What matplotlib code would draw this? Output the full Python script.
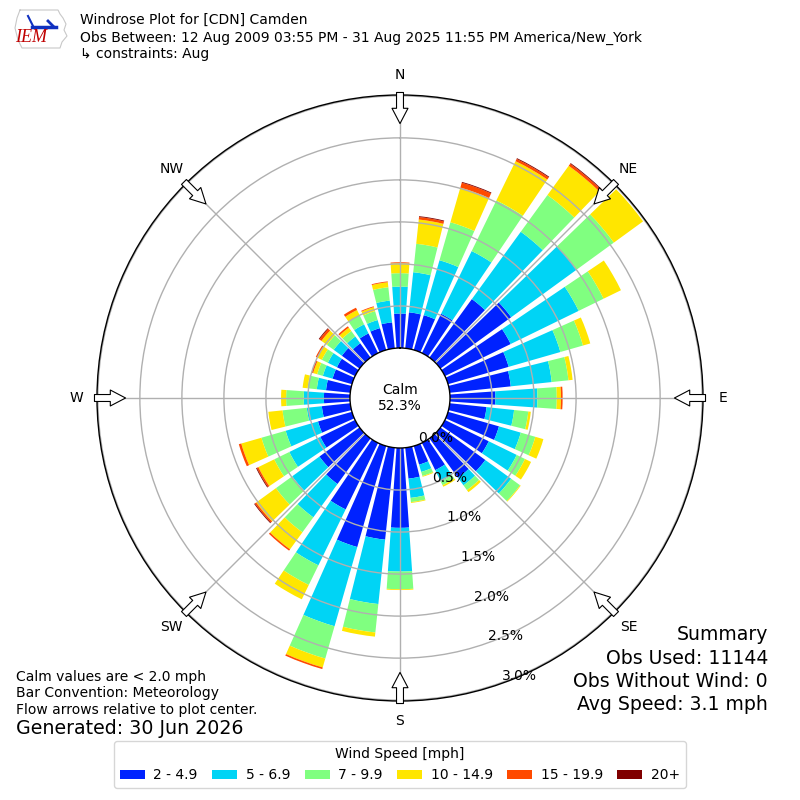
import matplotlib
matplotlib.use("Agg")
import matplotlib.pyplot as plt
from matplotlib.patches import Patch
from matplotlib.transforms import offset_copy
import numpy as np

# direction bins (deg, meteorological) and frequency [%] per speed class
directions = np.arange(0, 360, 10)
spd_2_5 = [0.41, 0.43, 0.43, 0.52, 0.86, 1.04, 0.87, 0.75, 0.73, 0.54, 0.44, 0.63,
           0.58, 0.66, 0.58, 0.36, 0.23, 0.37, 0.95, 1.10, 1.25, 0.88, 0.67, 0.59,
           0.46, 0.42, 0.34, 0.31, 0.29, 0.24, 0.24, 0.26, 0.21, 0.26, 0.27, 0.31]
spd_5_7 = [0.32, 0.48, 0.68, 0.83, 0.99, 0.96, 0.90, 0.64, 0.49, 0.50, 0.33, 0.27,
           0.37, 0.38, 0.11, 0.15, 0.09, 0.23, 0.52, 0.77, 0.98, 0.74, 0.49, 0.40,
           0.41, 0.40, 0.18, 0.24, 0.11, 0.12, 0.12, 0.12, 0.10, 0.12, 0.10, 0.26]
spd_7_10 = [0.16, 0.34, 0.47, 0.67, 0.54, 0.55, 0.33, 0.28, 0.20, 0.23, 0.17, 0.18,
            0.11, 0.13, 0.07, 0.05, 0.05, 0.05, 0.21, 0.34, 0.40, 0.26, 0.22, 0.24,
            0.20, 0.30, 0.29, 0.21, 0.11, 0.07, 0.08, 0.10, 0.08, 0.12, 0.11, 0.16]
spd_10_15 = [0.12, 0.29, 0.43, 0.52, 0.43, 0.43, 0.23, 0.09, 0.05, 0.05, 0.03, 0.10,
             0.08, 0.01, 0.03, 0.02, 0.01, 0.01, 0.01, 0.05, 0.11, 0.19, 0.25, 0.29,
             0.21, 0.25, 0.17, 0.06, 0.06, 0.05, 0.06, 0.08, 0.05, 0.07, 0.05, 0.06]
spd_15_20 = [0.01, 0.03, 0.06, 0.03, 0.03, 0.00, 0.00, 0.00, 0.00, 0.02, 0.00, 0.00,
             0.00, 0.00, 0.00, 0.00, 0.00, 0.00, 0.00, 0.00, 0.02, 0.00, 0.02, 0.02,
             0.02, 0.03, 0.00, 0.00, 0.00, 0.02, 0.02, 0.03, 0.02, 0.03, 0.01, 0.01]
spd_20p = [0.00, 0.01, 0.01, 0.01, 0.01, 0.00, 0.00, 0.00, 0.00, 0.00, 0.00, 0.00,
           0.00, 0.00, 0.00, 0.00, 0.00, 0.00, 0.00, 0.00, 0.00, 0.00, 0.00, 0.01,
           0.01, 0.00, 0.00, 0.00, 0.00, 0.00, 0.00, 0.01, 0.00, 0.00, 0.00, 0.00]

speed_labels = ["2 - 4.9", "5 - 6.9", "7 - 9.9", "10 - 14.9", "15 - 19.9", "20+"]
colors = ["#0022ff", "#00d4f5", "#80ff80", "#ffe600", "#ff4a00", "#800000"]

calm_pct = 52.3
ring_vals = [0.5, 1.0, 1.5, 2.0, 2.5, 3.0]
compass = ["N", "NE", "E", "SE", "S", "SW", "W", "NW"]

fig = plt.figure(figsize=(8, 8), dpi=100)
ax = fig.add_axes([0.12125, 0.12375, 0.7575, 0.7575], projection="polar")
ax.set_theta_zero_location("N")
ax.set_theta_direction(-1)
ax.set_rorigin(-0.595)
ax.set_ylim(0, 3.01)

theta = np.deg2rad(directions)
width = np.deg2rad(8)
bottom = np.zeros(len(directions))
for vals, c in zip([spd_2_5, spd_5_7, spd_7_10, spd_10_15, spd_15_20, spd_20p], colors):
    vals = np.array(vals)
    ax.bar(theta, vals, width=width, bottom=bottom, color=c, edgecolor="none", zorder=1)
    bottom = bottom + vals

ax.set_yticks(ring_vals)
ax.set_yticklabels([])
ax.set_thetagrids(range(0, 360, 45), labels=[""] * 8)
ax.grid(True, color="#b0b0b0", lw=1)
for sp in ax.spines.values():
    sp.set_color("black")
    sp.set_linewidth(1)

# radial labels
tr = offset_copy(ax.transData, fig=fig, x=19, y=7, units="dots")
for r in [0.0] + ring_vals:
    ax.text(np.deg2rad(160.5), r, "%.1f%%" % r, transform=tr, ha="center",
            va="center", fontsize=10)

# compass labels and flow arrows
for i, lab in enumerate(compass):
    t = np.deg2rad(i * 45)
    ax.text(t, 3.25, lab, ha="center", va="center", fontsize=10)
    ax.annotate("", xy=(t, 2.67), xytext=(t, 3.04), annotation_clip=False,
                arrowprops=dict(arrowstyle="simple,head_length=1.1,head_width=1.15,tail_width=0.5",
                                fc="white", ec="black", lw=0.8, shrinkA=0, shrinkB=0,
                                mutation_scale=10), zorder=5)

ax.text(0, -0.595, "Calm\n%.1f%%" % calm_pct, ha="center", va="center", fontsize=10)

# rough logo
lax = fig.add_axes([0, 1 - 56 / 800, 80 / 800, 56 / 800])
lax.set_xlim(0, 80)
lax.set_ylim(56, 0)
lax.axis("off")
ox = [20, 58, 60, 63, 66, 64, 67, 62, 60, 22, 18, 15, 17, 20]
oy = [10, 10, 14, 18, 24, 30, 36, 42, 48, 48, 40, 28, 18, 10]
lax.plot(ox, oy, color="#c8c8c8", lw=0.8)
lax.plot([32, 56], [27, 27], color="#1030c0", lw=2.5)
lax.plot([28, 33], [16, 26], color="#1030c0", lw=1.5)
lax.plot([48, 54], [21, 27], color="#1030c0", lw=2)
lax.text(31, 38, "IEM", color="#c00000", fontsize=13, style="italic",
         family="Liberation Serif", ha="center", va="center")

# header
fig.text(0.1, 1 - 20 / 800, "Windrose Plot for [CDN] Camden", fontsize=10, va="center")
fig.text(0.1, 1 - 38 / 800,
         "Obs Between: 12 Aug 2009 03:55 PM - 31 Aug 2025 11:55 PM America/New_York",
         fontsize=10, va="center")
fig.text(0.1, 1 - 54 / 800, "↳ constraints: Aug", fontsize=10, va="center")

# footer notes
fig.text(0.02, 1 - 677 / 800, "Calm values are < 2.0 mph", fontsize=10, va="center")
fig.text(0.02, 1 - 693 / 800, "Bar Convention: Meteorology", fontsize=10, va="center")
fig.text(0.02, 1 - 710 / 800, "Flow arrows relative to plot center.", fontsize=10, va="center")
fig.text(0.02, 1 - 729 / 800, "Generated: 30 Jun 2026", fontsize=13.7, va="center")

summary = ["Summary", "Obs Used: 11144", "Obs Without Wind: 0", "Avg Speed: 3.1 mph"]
for k, s in enumerate(summary):
    fig.text(0.96, 1 - (635 + 23.3 * k) / 800, s, fontsize=13.6, ha="right", va="center")

handles = [Patch(facecolor=c) for c in colors]
fig.legend(handles, speed_labels, loc="lower center", bbox_to_anchor=(0.5, 0.006),
           ncol=6, title="Wind Speed [mph]", fontsize=10, title_fontsize=10,
           handlelength=1.8, handleheight=0.6, handletextpad=0.6,
           columnspacing=1.05, borderpad=0.45)

fig.savefig("out.png", dpi=100)
